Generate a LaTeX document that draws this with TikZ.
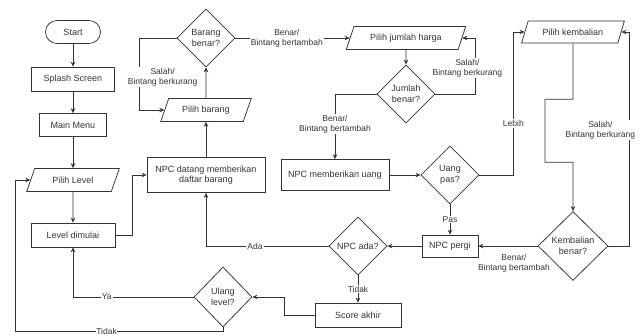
\documentclass[tikz,border=0pt]{standalone}
\usepackage{fontspec}
\setmainfont{Liberation Sans}
\usepackage{tikz}
\usetikzlibrary{arrows.meta}
\usetikzlibrary{positioning}
\usetikzlibrary{shapes}
\definecolor{ink}{HTML}{333333}
\tikzstyle{box}=[draw=ink,rectangle,inner sep=2pt,align=center]
\tikzstyle{term}=[draw=ink,rectangle,rounded corners=11.5pt,inner sep=2pt]
\tikzstyle{data}=[draw=ink,trapezium,trapezium left angle=66,trapezium right angle=114,trapezium stretches=true,minimum height=23pt,inner sep=2pt]
\tikzstyle{choice}=[draw=ink,diamond,aspect=1,inner sep=0pt,align=center,minimum width=58pt,minimum height=58pt]
\tikzstyle{lbl}=[fill=white,inner sep=1pt,align=center,font=\fontsize{8.5}{10}\selectfont]

\begin{document}
\begin{tikzpicture}[x=1pt,y=-1pt,line width=0.75pt,color=ink,font=\fontsize{9}{10.5}\selectfont,>={Stealth[length=5pt,width=4.5pt]}]
\useasboundingbox (0,0) rectangle (640,336);
% left column
\node [term,minimum width=55pt,minimum height=23pt] (start) at (73,32) {Start};
\node [box,minimum width=83pt,minimum height=24pt] (splash) at (73,79) {Splash Screen};
\node [box,minimum width=67pt,minimum height=23pt] (menu) at (73,125) {Main Menu};
\node [data,minimum width=93pt] (level) at (73,180) {Pilih Level};
\node [box,minimum width=84pt,minimum height=24pt] (mulai) at (73,235) {Level dimulai};
% barang
\node [box,minimum width=118pt,minimum height=35pt] (npcdatang) at (206,175) {NPC datang memberikan\\daftar barang};
\node [data,minimum width=91pt] (pilihbarang) at (206,110) {Pilih barang};
\node [choice] (barangok) at (206,38) {Barang\\benar?};
% harga
\node [data,minimum width=120pt] (pilihjumlah) at (406,38) {Pilih jumlah harga};
\node [choice] (jumlahok) at (406,94) {Jumlah\\benar?};
\node [box,minimum width=108pt,minimum height=31pt] (npcuang) at (335,175) {NPC memberikan uang};
\node [choice] (uangpas) at (450,175) {Uang\\pas?};
% kembalian
\node [data,minimum width=103pt,minimum height=22pt] (kembalian) at (573,32) {Pilih kembalian};
\node [choice,minimum width=70pt,minimum height=69pt] (kembalianok) at (573,246) {Kembalian\\benar?};
\node [box,minimum width=56pt,minimum height=22pt] (npcpergi) at (450,246) {NPC pergi};
\node [choice] (npcada) at (358,246) {NPC ada?};
\node [box,minimum width=86pt,minimum height=24pt] (score) at (358,315) {Score akhir};
\node [choice,minimum height=60pt] (ulang) at (223,297) {Ulang\\level?};

\draw[->] (start) -- (splash);
\draw[->] (splash) -- (menu);
\draw[->] (menu) -- (level);
\draw[->] (level) -- (mulai);
\draw[->] (mulai.east) -- ++(17,0) |- (npcdatang.west);
\draw[->] (npcdatang) -- (pilihbarang);
\draw[->] (pilihbarang) -- (barangok);
\draw[->] (barangok.west) -- ++(-37,0) |- (pilihbarang.west) node[lbl,pos=0.27,xshift=23pt] {Salah/\\Bintang berkurang};
\draw[->] (barangok) -- (pilihjumlah) node[lbl,pos=0.45] {Benar/\\Bintang bertambah};
\draw[->] (pilihjumlah) -- (jumlahok);
\draw[->] (jumlahok.east) -- ++(40,0) |- (pilihjumlah.east) node[lbl,pos=0.23,xshift=-8pt] {Salah/\\Bintang berkurang};
\draw[->] (jumlahok.west) -| (npcuang) node[lbl,pos=0.73] {Benar/\\Bintang bertambah};
\draw[->] (npcuang) -- (uangpas);
\draw[->] (uangpas.east) -- ++(34,0) |- (kembalian.west) node[lbl,pos=0.18] {Lebih};
\draw[->] (kembalian.south) -- ++(0,56) -- ++(-28,0) -- ++(0,63) -- ++(28,0) -- (kembalianok.north);
\draw[->] (kembalianok.east) -- ++(21,0) |- (kembalian.east) node[lbl,pos=0.27,xshift=-29pt] {Salah/\\Bintang berkurang};
\draw[->] (kembalianok) -- (npcpergi) node[lbl,below=7pt,pos=0.4,fill=none] {Benar/\\Bintang bertambah};
\draw[->] (uangpas) -- (npcpergi) node[lbl,midway] {Pas};
\draw[->] (npcpergi) -- (npcada);
\draw[->] (npcada.west) -| (npcdatang) node[lbl,pos=0.3] {Ada};
\draw[->] (npcada) -- (score) node[lbl,midway] {Tidak};
\draw[->] (score.west) -- ++(-30,0) |- (ulang.east);
\draw[->] (ulang.west) -| (mulai) node[lbl,pos=0.36] {Ya};
\draw[->] (ulang.south) -- ++(0,4) -- ++(-208,0) node[lbl,pos=0.56,inner sep=0.5pt] {Tidak} |- (level.west);
\end{tikzpicture}
\end{document}
